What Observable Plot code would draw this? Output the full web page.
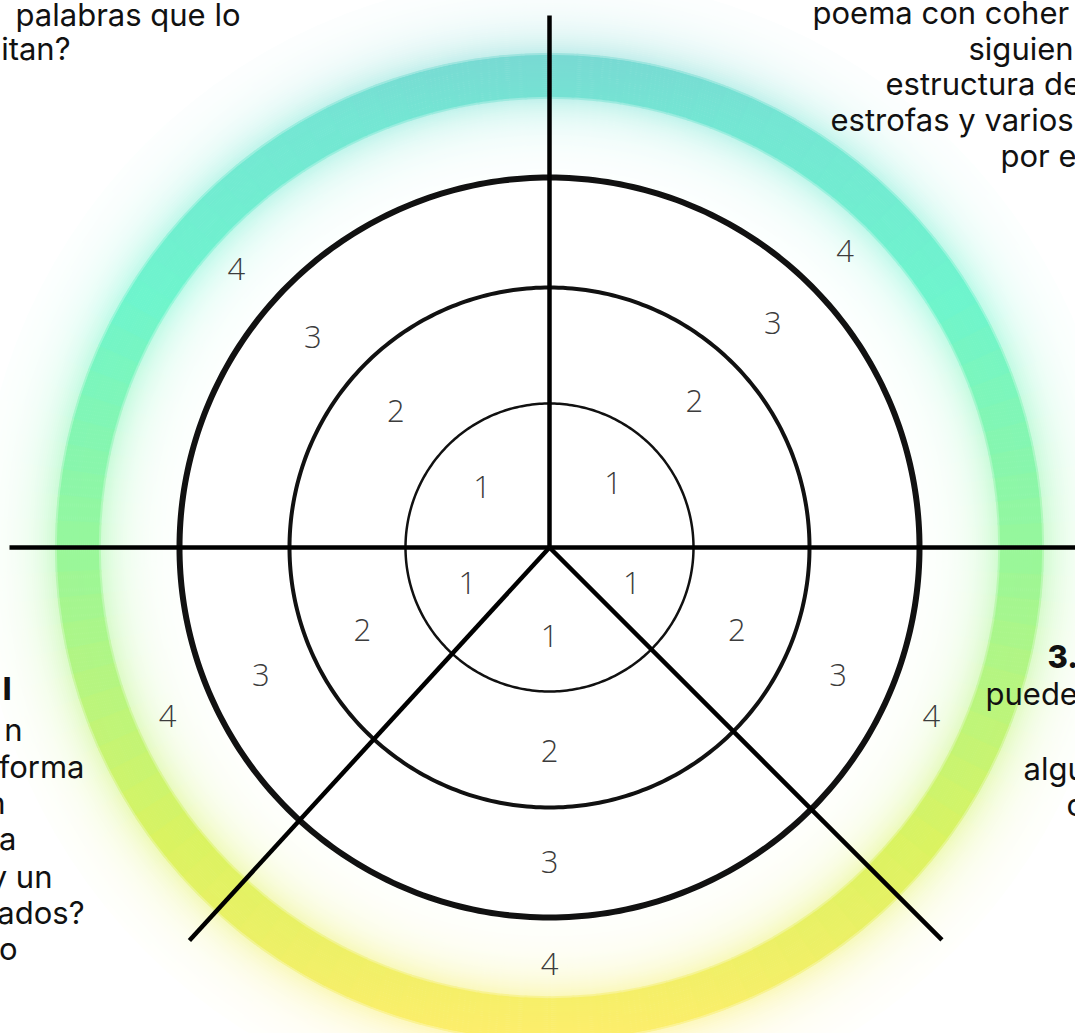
<!DOCTYPE html>
<html><head><meta charset="utf-8">
<script src="https://cdn.jsdelivr.net/npm/d3@7"></script>
<script src="https://cdn.jsdelivr.net/npm/@observablehq/plot@0.6"></script>
<style>html,body{margin:0;padding:0;background:#fff;overflow:hidden}svg{display:block}</style>
</head><body><div id="chart"></div>
<script>
// ---- data ----
const levels = [1, 2, 3, 4];
const sectors = ["superior izquierdo", "superior derecho", "inferior izquierdo", "inferior derecho", "inferior"];
const spokeNames = ["arriba", "izquierda", "derecha", "abajo izquierda", "abajo derecha"];
const spokeAngles = [90, 180, 0, -132.5, -45];
const topLeftLines = ["palabras que lo", "itan?"];
const topRightLines = ["poema con coher", "siguien", "estructura de", "estrofas y varios", "por e"];
const rightLines = ["3.", "puede", "algu", "c"];
const leftLines = ["l", "n", "forma", "n", "a", "y un", "ados?", "o"];

// ---- layout & style (pixels, centre of the wheel at 549,547) ----
const W = 1075, H = 1033, CX = 549, CY = 547;
const ringRadius = {1: 144, 2: 260, 3: 370, 4: 472};
const ringStroke = {1: 2.5, 2: 4, 3: 6};
const bandHalf = 22;
const labelRadius = {1: 90, 2: 205, 3: 316, 4: 418};
const labelAngles = [138.5, 45, -156, -24, -90];
const spokeLength = [532, 540, 560, 533, 555];
const rad = (a) => a * Math.PI / 180;
const circlePts = (r) => d3.range(0, 361, 1).map(a => ({x: r * Math.cos(rad(a)), y: r * Math.sin(rad(a))}));
const px = (x) => x - CX, py = (y) => CY - y;

// colour of the outer band by screen height (teal at the top to yellow at the bottom)
const bandColor = d3.scaleLinear()
  .domain([52, 120, 300, 547, 840, 1030])
  .range(["#79d9d3", "#74e6d3", "#6ef5cd", "#97f79b", "#daf361", "#fcee6b"])
  .interpolate(d3.interpolateRgb).clamp(true);
// band opacity by radius: solid band with a soft glow on both sides
const bandAlpha = (r) => {
  const d = Math.abs(r - ringRadius[4]) - bandHalf;
  if (d <= -1) return 1;
  if (d <= 1) return 1 - (d + 1) / 2 * 0.55;
  return 0.45 * Math.exp(-(d - 1) / 24);
};
const glowSegs = [];
const step = 3;
for (let r = 372; r <= 570; r += 2) {
  const a = bandAlpha(r);
  if (a < 0.012) continue;
  for (let t = 0; t < 360; t += step) {
    const x1 = r * Math.cos(rad(t)), y1 = r * Math.sin(rad(t));
    const x2 = r * Math.cos(rad(t + step)), y2 = r * Math.sin(rad(t + step));
    const ym = CY - (y1 + y2) / 2;
    glowSegs.push({x1, y1, x2, y2, c: d3.interpolateRgb("#ffffff", bandColor(ym))(a)});
  }
}

const topLeftPos = [[240, 16], [70, 50]];
const topRightPos = [[812, 14], [968, 50], [885, 85], [830, 121], [1000, 157]];
const rightPos = [[1047, 658], [985, 695], [1023, 770], [1066, 806]];
const leftPos = [[11, 690], [22, 731], [84, 768], [5, 804], [16, 840], [52, 878], [84, 914], [17, 950]];

const spokes = spokeNames.map((name, i) => ({
  name, x2: spokeLength[i] * Math.cos(rad(spokeAngles[i])), y2: spokeLength[i] * Math.sin(rad(spokeAngles[i]))
}));
const labels = sectors.flatMap((s, i) => levels.map(l => ({
  sector: s, level: l,
  x: labelRadius[l] * Math.cos(rad(labelAngles[i])),
  y: labelRadius[l] * Math.sin(rad(labelAngles[i]))
})));
const frag = (lines, pos) => lines.map((t, i) => ({text: t, x: px(pos[i][0]), y: py(pos[i][1]), bold: t === "3." || t === "l"}));
const fragTL = frag(topLeftLines, topLeftPos);
const fragTR = frag(topRightLines, topRightPos);
const fragR = frag(rightLines, rightPos);
const fragL = frag(leftLines, leftPos);

const textFont = "Inter, 'Noto Sans', sans-serif";
const FS = 31;
const txt = (data, anchor, bold) => Plot.text(data.filter(d => d.bold === bold), {
  x: "x", y: "y", text: "text", textAnchor: anchor, fontSize: FS, fill: "#111",
  fontWeight: bold ? 800 : 400, fontFamily: textFont
});

const svg = Plot.plot({
  width: W, height: H,
  margin: 0,
  x: {domain: [px(0), px(W)], range: [0, W], axis: null},
  y: {domain: [py(H), py(0)], range: [H, 0], axis: null},
  color: {type: "identity"},
  style: {background: "white", overflow: "hidden"},
  marks: [
    Plot.link(glowSegs, {x1: "x1", y1: "y1", x2: "x2", y2: "y2", stroke: "c", strokeWidth: 2.6, strokeLinecap: "square"}),
    Plot.line(circlePts(ringRadius[3]), {x: "x", y: "y", fill: "white", stroke: "none"}),
    ...[1, 2, 3].map(l => Plot.line(circlePts(ringRadius[l]), {x: "x", y: "y", stroke: "#111", strokeWidth: ringStroke[l]})),
    Plot.link(spokes, {x1: 0, y1: 0, x2: "x2", y2: "y2", stroke: "#000", strokeWidth: 4.5, strokeLinecap: "butt"}),
    Plot.text(labels, {x: "x", y: "y", text: d => String(d.level), fontSize: 31, fontWeight: 300, fill: "#3c3c3c", fontFamily: "'Open Sans', sans-serif"}),
    txt(fragTL, "end", false),
    txt(fragTR, "start", false),
    txt(fragR, "start", false),
    txt(fragR, "start", true),
    txt(fragL, "end", false),
    txt(fragL, "end", true)
  ]
});

document.getElementById("chart").appendChild(svg);
</script>
</body></html>
